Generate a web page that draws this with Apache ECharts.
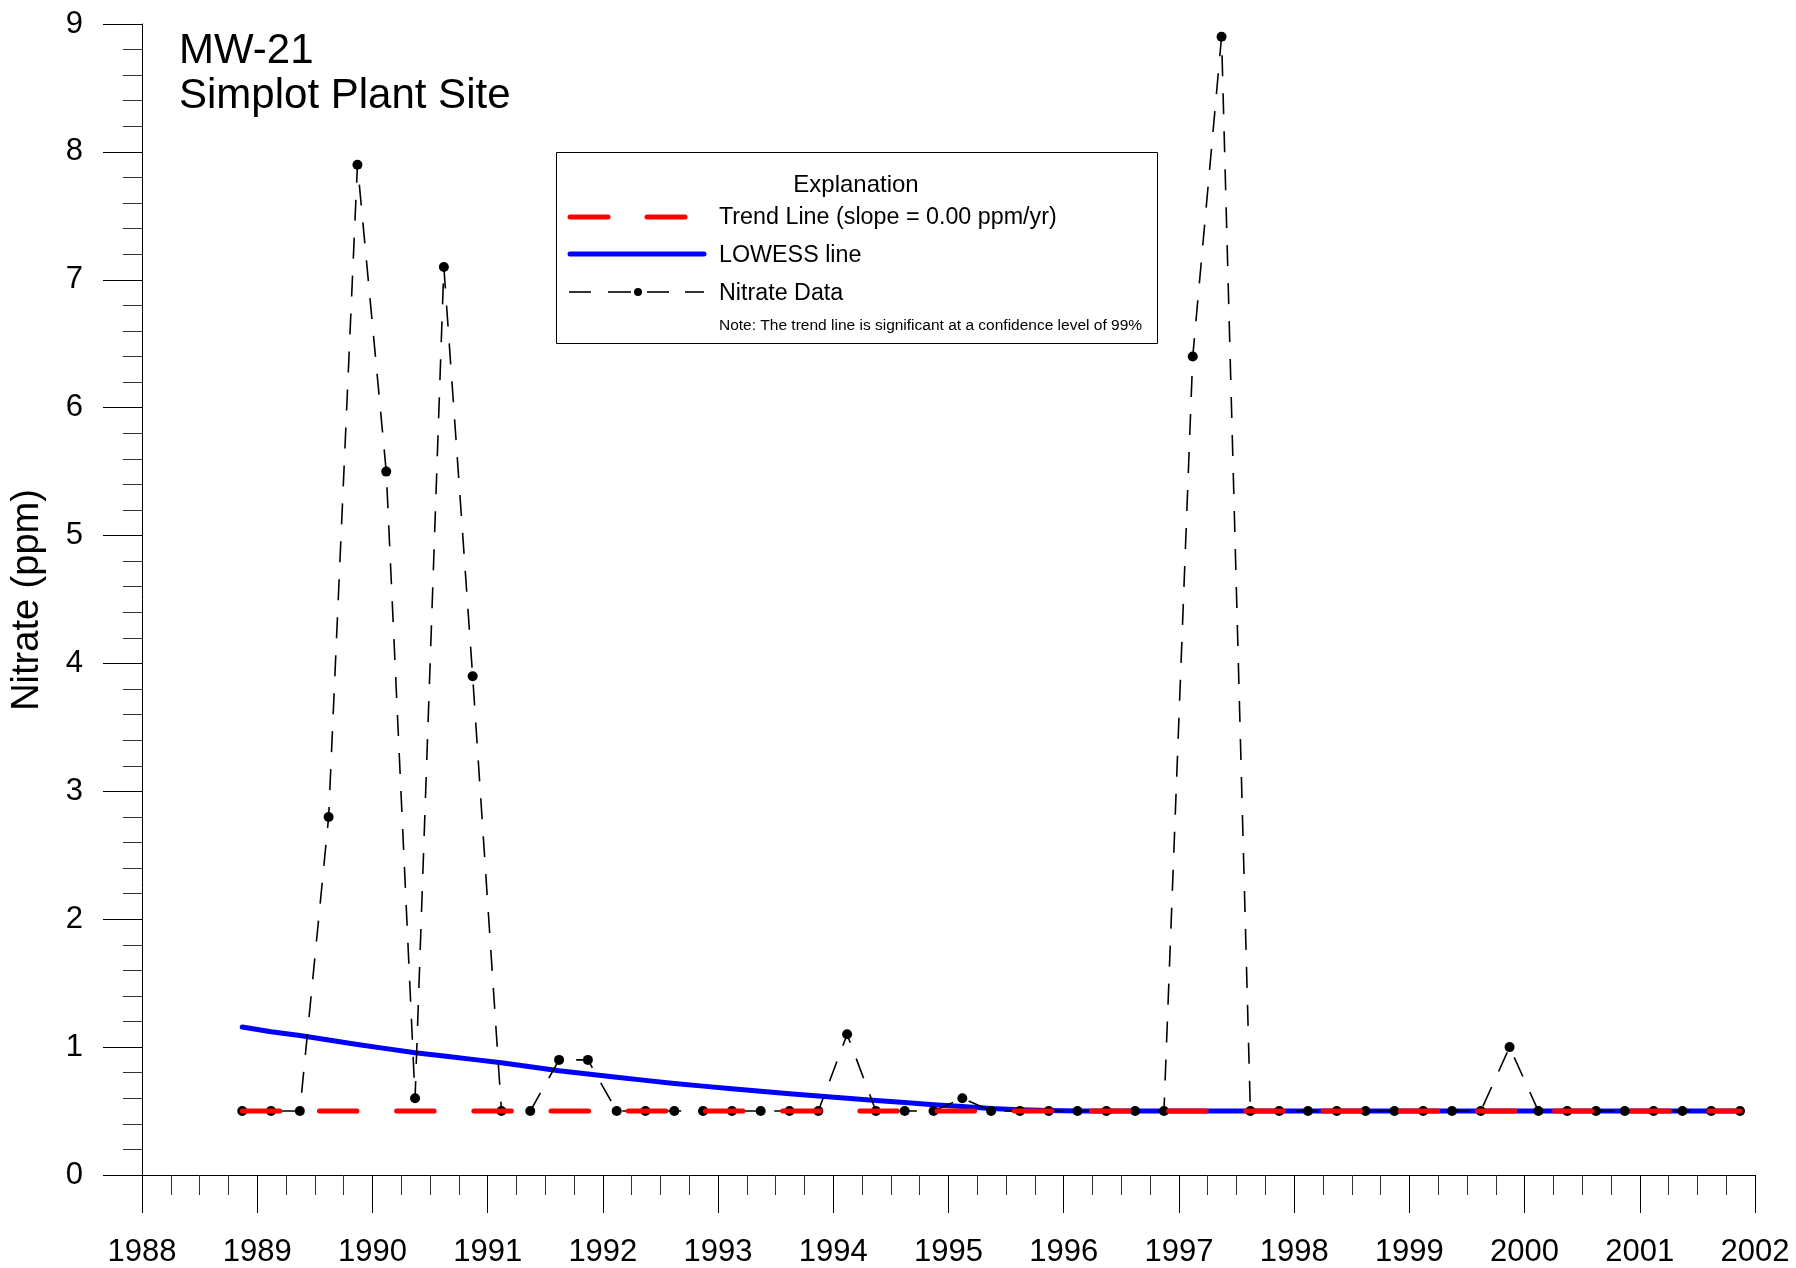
<!DOCTYPE html>
<html>
<head>
<meta charset="utf-8">
<script src="https://cdn.jsdelivr.net/npm/echarts@6/dist/echarts.min.js"></script>
<style>
html,body{margin:0;padding:0;background:#fff;}
#chart{width:1796px;height:1268px;}
</style>
</head>
<body>
<div id="chart"></div>
<script>
// ---- Data ----
var sampleDates = [1988.87, 1989.12, 1989.37, 1989.62, 1989.87, 1990.12, 1990.37, 1990.62, 1990.87,
  1991.12, 1991.37, 1991.62, 1991.87, 1992.12, 1992.37, 1992.62, 1992.87, 1993.12, 1993.37, 1993.62,
  1993.87, 1994.12, 1994.37, 1994.62, 1994.87, 1995.12, 1995.37, 1995.62, 1995.87, 1996.12, 1996.37,
  1996.62, 1996.87, 1997.12, 1997.37, 1997.62, 1997.87, 1998.12, 1998.37, 1998.62, 1998.87, 1999.12,
  1999.37, 1999.62, 1999.87, 2000.12, 2000.37, 2000.62, 2000.87, 2001.12, 2001.37, 2001.62, 2001.87];
var nitrate = [0.5, 0.5, 0.5, 2.8, 7.9, 5.5, 0.6, 7.1, 3.9,
  0.5, 0.5, 0.9, 0.9, 0.5, 0.5, 0.5, 0.5, 0.5, 0.5, 0.5,
  0.5, 1.1, 0.5, 0.5, 0.5, 0.6, 0.5, 0.5, 0.5, 0.5, 0.5,
  0.5, 0.5, 6.4, 8.9, 0.5, 0.5, 0.5, 0.5, 0.5, 0.5, 0.5,
  0.5, 0.5, 1.0, 0.5, 0.5, 0.5, 0.5, 0.5, 0.5, 0.5, 0.5];
var lowess = [1.157, 1.12, 1.09, 1.055, 1.02, 0.988, 0.956, 0.93, 0.904,
  0.878, 0.846, 0.815, 0.79, 0.765, 0.74, 0.715, 0.695, 0.675, 0.655, 0.635,
  0.617, 0.60, 0.583, 0.567, 0.55, 0.535, 0.52, 0.51, 0.504, 0.501, 0.5,
  0.5, 0.5, 0.5, 0.5, 0.5, 0.5, 0.5, 0.5, 0.5, 0.5, 0.5,
  0.5, 0.5, 0.5, 0.5, 0.5, 0.5, 0.5, 0.5, 0.5, 0.5, 0.5];
var trendDates = [1988.87, 2001.87];
var trendValues = [0.5, 0.5];
var titleLines = ['MW-21', 'Simplot Plant Site'];
var yAxisTitle = 'Nitrate (ppm)';
var legendTitle = 'Explanation';
var legendLabels = ['Trend Line (slope = 0.00 ppm/yr)', 'LOWESS line', 'Nitrate Data'];
var legendNote = 'Note: The trend line is significant at a confidence level of 99%';

function pairs(xs, ys) { return xs.map(function (x, i) { return [x, ys[i]]; }); }

var FONT = '"Liberation Sans", Arial, Helvetica, sans-serif';
var chart = echarts.init(document.getElementById('chart'), null, {renderer: 'canvas'});

var option = {
  animation: false,
  backgroundColor: '#ffffff',
  grid: {left: 142, right: 41, top: 24, bottom: 93, containLabel: false},
  xAxis: {
    type: 'value', min: 1988, max: 2002, interval: 1,
    axisLine: {show: true, lineStyle: {color: '#000', width: 1}},
    axisTick: {show: true, length: 38, lineStyle: {color: '#000', width: 1}},
    minorTick: {show: true, splitNumber: 4, length: 20, lineStyle: {color: '#333', width: 1}},
    splitLine: {show: false},
    axisLabel: {show: true, margin: 62, color: '#000', fontSize: 31, fontFamily: FONT,
      showMinLabel: true, showMaxLabel: true, formatter: function (v) { return String(v); }}
  },
  yAxis: {
    type: 'value', min: 0, max: 9, interval: 1,
    axisLine: {show: true, lineStyle: {color: '#000', width: 1}},
    axisTick: {show: true, length: 39, lineStyle: {color: '#000', width: 1}},
    minorTick: {show: true, splitNumber: 5, length: 19, lineStyle: {color: '#333', width: 1}},
    splitLine: {show: false},
    axisLabel: {show: true, margin: 59, color: '#000', fontSize: 31, fontFamily: FONT}
  },
  series: [
    {
      name: legendLabels[1], type: 'line', z: 2,
      data: pairs(sampleDates, lowess),
      showSymbol: false, symbol: 'none', smooth: false,
      lineStyle: {color: '#0000ff', width: 5, cap: 'round', join: 'round'}
    },
    {
      name: legendLabels[2], type: 'line', z: 3,
      data: pairs(sampleDates, nitrate),
      symbol: 'circle', symbolSize: 10, showSymbol: true,
      itemStyle: {color: '#000'},
      lineStyle: {color: '#000', width: 1.6, type: [21, 17]}
    },
    {
      name: legendLabels[0], type: 'line', z: 4,
      data: pairs(trendDates, trendValues),
      symbol: 'none', showSymbol: false,
      lineStyle: {color: '#ff0000', width: 5, type: [37.5, 39.7], cap: 'round'}
    }
  ],
  graphic: [
    {type: 'text', z: 10, style: {text: titleLines[0], x: 179, y: 51, font: '42px ' + FONT, fill: '#000', textAlign: 'left', textVerticalAlign: 'middle'}},
    {type: 'text', z: 10, style: {text: titleLines[1], x: 179, y: 96.5, font: '42px ' + FONT, fill: '#000', textAlign: 'left', textVerticalAlign: 'middle'}},
    {type: 'text', z: 10, x: 28, y: 600, rotation: Math.PI / 2,
      style: {text: yAxisTitle, x: 0, y: 0, font: '38px ' + FONT, fill: '#000', textAlign: 'center', textVerticalAlign: 'middle'}},
    // legend box
    {type: 'rect', z: 10, shape: {x: 556.5, y: 152.5, width: 601, height: 191},
      style: {fill: '#fff', stroke: '#000', lineWidth: 1}},
    {type: 'text', z: 11, style: {text: legendTitle, x: 856, y: 185, font: '24px ' + FONT, fill: '#000', textAlign: 'center', textVerticalAlign: 'middle'}},
    {type: 'line', z: 11, shape: {x1: 570, y1: 217, x2: 608, y2: 217}, style: {stroke: '#ff0000', lineWidth: 5, lineCap: 'round'}},
    {type: 'line', z: 11, shape: {x1: 647, y1: 217, x2: 685, y2: 217}, style: {stroke: '#ff0000', lineWidth: 5, lineCap: 'round'}},
    {type: 'text', z: 11, style: {text: legendLabels[0], x: 719, y: 217.5, font: '23.3px ' + FONT, fill: '#000', textAlign: 'left', textVerticalAlign: 'middle'}},
    {type: 'line', z: 11, shape: {x1: 570, y1: 254, x2: 704, y2: 254}, style: {stroke: '#0000ff', lineWidth: 5, lineCap: 'round'}},
    {type: 'text', z: 11, style: {text: legendLabels[1], x: 719, y: 255.5, font: '23.3px ' + FONT, fill: '#000', textAlign: 'left', textVerticalAlign: 'middle'}},
    {type: 'line', z: 11, shape: {x1: 569, y1: 292, x2: 591, y2: 292}, style: {stroke: '#000', lineWidth: 1.6}},
    {type: 'line', z: 11, shape: {x1: 608, y1: 292, x2: 631, y2: 292}, style: {stroke: '#000', lineWidth: 1.6}},
    {type: 'line', z: 11, shape: {x1: 647, y1: 292, x2: 669, y2: 292}, style: {stroke: '#000', lineWidth: 1.6}},
    {type: 'line', z: 11, shape: {x1: 685, y1: 292, x2: 704, y2: 292}, style: {stroke: '#000', lineWidth: 1.6}},
    {type: 'circle', z: 11, shape: {cx: 638, cy: 292, r: 4}, style: {fill: '#000'}},
    {type: 'text', z: 11, style: {text: legendLabels[2], x: 719, y: 293.5, font: '23.3px ' + FONT, fill: '#000', textAlign: 'left', textVerticalAlign: 'middle'}},
    {type: 'text', z: 11, style: {text: legendNote, x: 719, y: 326, font: '15.5px ' + FONT, fill: '#000', textAlign: 'left', textVerticalAlign: 'middle'}}
  ]
};
chart.setOption(option);
</script>
</body>
</html>
